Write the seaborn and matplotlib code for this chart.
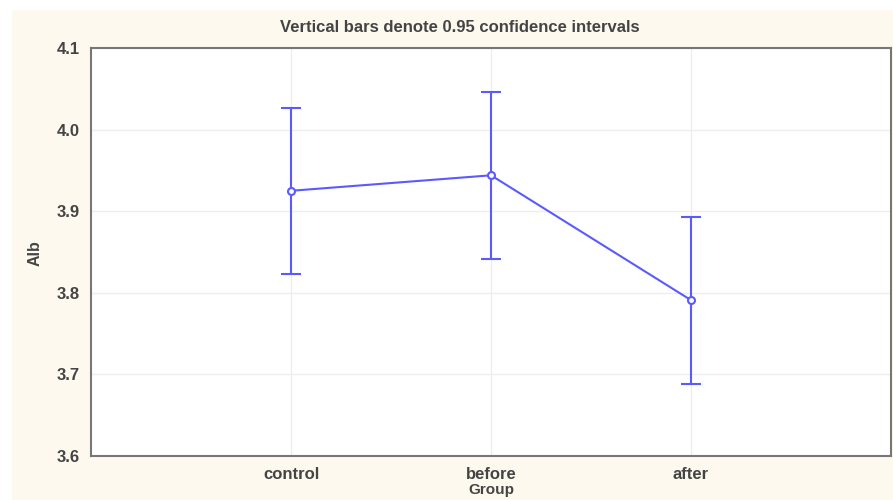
import pandas as pd
import matplotlib.pyplot as plt
import seaborn as sns
from matplotlib.patches import Rectangle

sns.set_style('white')
plt.rcParams['font.family'] = ['Liberation Sans', 'DejaVu Sans']

# group means and 0.95 CI bounds
groups = ['control', 'before', 'after']
means = [3.925, 3.944, 3.791]
ci_low = [3.823, 3.841, 3.688]
ci_high = [4.027, 4.046, 3.893]

df = pd.DataFrame({'Group': groups, 'Alb': means})

blue = '#5a5aff'
txt = '#444444'
fig = plt.figure(figsize=(8.93, 5), dpi=100, facecolor='white')
# cream panel behind the plot
fig.patches.append(Rectangle((12 / 893, 0), 1, 490 / 500, transform=fig.transFigure,
                             facecolor='#fdf9ee', edgecolor='none', zorder=-1))
ax = fig.add_axes([91 / 893, 44 / 500, 800 / 893, 408 / 500])
ax.set_facecolor('white')

ax.errorbar(range(len(groups)), means,
            yerr=[[m - lo for m, lo in zip(means, ci_low)],
                  [hi - m for m, hi in zip(means, ci_high)]],
            fmt='none', ecolor=blue, elinewidth=1.5, capsize=7, capthick=1.5, zorder=2)
sns.pointplot(data=df, x='Group', y='Alb', color=blue, errorbar=None, ax=ax,
              markers='o', linewidth=1.5, markersize=5,
              markerfacecolor='white', markeredgecolor=blue, markeredgewidth=1.5)

ax.set_xlim(-1, 3)
ax.set_ylim(3.6, 4.1)
ax.set_yticks([3.6, 3.7, 3.8, 3.9, 4.0, 4.1])
ax.set_yticklabels(['3.6', '3.7', '3.8', '3.9', '4.0', '4.1'])
ax.grid(True, color='#eeeeee', linewidth=1)
ax.set_axisbelow(True)
for s in ax.spines.values():
    s.set_color('#777777')
    s.set_linewidth(1.5)
ax.tick_params(direction='in', length=3, color='#777777', labelsize=12,
               labelcolor=txt, pad=8)
for lab in ax.get_xticklabels() + ax.get_yticklabels():
    lab.set_fontweight('bold')

ax.set_xlabel('')
fig.text(491 / 893, 1 - 490 / 500, 'Group', ha='center', va='center',
         fontsize=11, color=txt, fontweight='bold')
ax.set_ylabel('')
fig.text(35 / 893, 1 - 253 / 500, 'Alb', ha='center', va='center', rotation=90,
         fontsize=11.5, color=txt, fontweight='bold')
fig.text(460 / 893, 1 - 27 / 500, 'Vertical bars denote 0.95 confidence intervals',
         ha='center', va='center', fontsize=12, color=txt, fontweight='bold')

fig.savefig('out.png', dpi=100, facecolor=fig.get_facecolor())
